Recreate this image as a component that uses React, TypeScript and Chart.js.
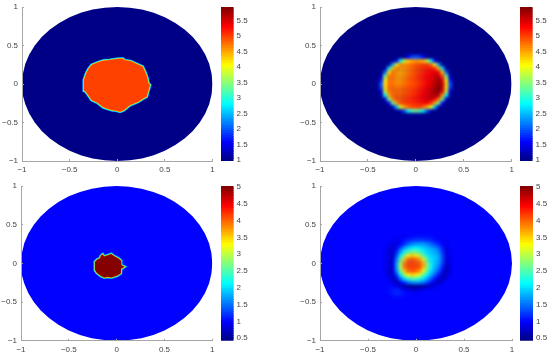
import React, { useEffect, useRef } from "react";
import { Chart, registerables } from "chart.js";

Chart.register(...registerables);

const FONT = "'Liberation Sans', Arial, sans-serif";
const TEXT = "#454545";
const AXIS = "#a6a6a6";

const axisTicks = [-1, -0.5, 0, 0.5, 1];
const barTicksTop = [1, 1.5, 2, 2.5, 3, 3.5, 4, 4.5, 5, 5.5];
const barTicksBottom = [0.5, 1, 1.5, 2, 2.5, 3, 3.5, 4, 4.5, 5];
const rangeTop = [0.97, 5.94];
const rangeBottom = [0.42, 5.03];

// unit disc outline of the solution domain
const diskX = [1, 0.991, 0.966, 0.924, 0.866, 0.793, 0.707, 0.609, 0.5, 0.383, 0.259, 0.131, 0, -0.131, -0.259, -0.383, -0.5, -0.609, -0.707, -0.793, -0.866, -0.924, -0.966, -0.991, -1, -0.991, -0.966, -0.924, -0.866, -0.793, -0.707, -0.609, -0.5, -0.383, -0.259, -0.131, 0, 0.131, 0.259, 0.383, 0.5, 0.609, 0.707, 0.793, 0.866, 0.924, 0.966, 0.991, 1];
const diskY = [0, 0.131, 0.259, 0.383, 0.5, 0.609, 0.707, 0.793, 0.866, 0.924, 0.966, 0.991, 1, 0.991, 0.966, 0.924, 0.866, 0.793, 0.707, 0.609, 0.5, 0.383, 0.259, 0.131, 0, -0.131, -0.259, -0.383, -0.5, -0.609, -0.707, -0.793, -0.866, -0.924, -0.966, -0.991, -1, -0.991, -0.966, -0.924, -0.866, -0.793, -0.707, -0.609, -0.5, -0.383, -0.259, -0.131, 0];

// inclusion outlines of the two true fields
const blobTopX = [-0.076, -0.006, 0.057, 0.081, 0.144, 0.204, 0.267, 0.291, 0.305, 0.319, 0.326, 0.344, 0.326, 0.309, 0.274, 0.221, 0.134, 0.071, 0.029, -0.006, -0.059, -0.146, -0.206, -0.269, -0.304, -0.339, -0.349, -0.328, -0.304, -0.269, -0.199, -0.146, -0.076];
const blobTopY = [0.312, 0.325, 0.329, 0.307, 0.294, 0.26, 0.225, 0.16, 0.117, 0.061, 0.009, -0.013, -0.087, -0.165, -0.186, -0.229, -0.273, -0.338, -0.359, -0.346, -0.338, -0.303, -0.243, -0.208, -0.143, -0.087, 0.052, 0.13, 0.19, 0.247, 0.281, 0.303, 0.312];
const blobBottomX = [-0.163, -0.146, -0.132, -0.104, -0.058, -0.017, 0.018, 0.046, 0.046, 0.081, 0.06, 0.046, 0.043, 0.001, -0.058, -0.093, -0.128, -0.163, -0.208, -0.226, -0.226, -0.201, -0.174, -0.163];
const blobBottomY = [0.103, 0.116, 0.09, 0.099, 0.12, 0.086, 0.064, 0.034, -0.022, -0.043, -0.06, -0.065, -0.129, -0.16, -0.181, -0.173, -0.181, -0.164, -0.121, -0.086, 0.021, 0.051, 0.064, 0.103];

// sampling positions of the two reconstructed fields
const gridX = [-0.44, -0.4, -0.36, -0.32, -0.28, -0.24, -0.2, -0.16, -0.12, -0.08, -0.04, 0, 0.04, 0.08, 0.12, 0.16, 0.2, 0.24, 0.28, 0.32, 0.36, 0.4, 0.44];
const gridY = [0.45, 0.4, 0.35, 0.3, 0.25, 0.2, 0.15, 0.1, 0.05, 0, -0.05, -0.1, -0.15, -0.2, -0.25, -0.3, -0.35, -0.4, -0.45];

const fieldTopRight = [
  [1, 1, 1, 1, 1, 1, 1, 1, 1, 1, 1, 1, 1, 1, 1, 1, 1, 1, 1, 1, 1, 1, 1],
  [1, 1, 1, 1, 1, 1, 1, 1, 1, 1, 1.03, 1.1, 1.03, 1, 1, 1, 1, 1, 1, 1, 1, 1, 1],
  [1, 1, 1, 1, 1, 1, 1, 1.05, 1.15, 1.55, 1.9, 2, 1.9, 1.55, 1.15, 1.05, 1, 1, 1, 1, 1, 1, 1],
  [1, 1, 1, 1, 1, 1.05, 1.55, 2.8, 3.8, 4.3, 4.5, 4.6, 4.5, 4.4, 3.8, 2.8, 1.55, 1.05, 1, 1, 1, 1, 1],
  [1, 1, 1, 1, 1.15, 2.4, 4, 4.6, 4.65, 4.7, 4.8, 4.9, 4.95, 5, 5.05, 4.8, 4, 2.4, 1.15, 1, 1, 1, 1],
  [1, 1, 1, 1.15, 2.7, 4.3, 4.65, 4.6, 4.6, 4.7, 4.85, 4.95, 5, 5.1, 5.15, 5.2, 5.1, 4.4, 2.7, 1.15, 1, 1, 1],
  [1, 1, 1.03, 2.1, 4.2, 4.75, 4.6, 4.5, 4.6, 4.75, 4.85, 4.95, 5.05, 5.15, 5.25, 5.35, 5.45, 5.3, 4.3, 2.1, 1.03, 1, 1],
  [1, 1, 1.25, 3.4, 4.7, 4.75, 4.6, 4.55, 4.65, 4.8, 4.9, 5, 5.1, 5.2, 5.3, 5.4, 5.55, 5.6, 5, 3.4, 1.25, 1, 1],
  [1, 1, 1.7, 4, 4.75, 4.75, 4.6, 4.6, 4.7, 4.85, 4.95, 5, 5.1, 5.2, 5.3, 5.45, 5.6, 5.75, 5.4, 4, 1.7, 1, 1],
  [1, 1.02, 2, 4.2, 4.8, 4.75, 4.65, 4.65, 4.75, 4.85, 4.95, 5, 5.1, 5.2, 5.35, 5.5, 5.7, 5.85, 5.6, 4.3, 2, 1.02, 1],
  [1, 1.02, 1.9, 4.2, 4.8, 4.8, 4.75, 4.75, 4.85, 4.95, 5, 5.05, 5.15, 5.25, 5.4, 5.55, 5.75, 5.9, 5.6, 4.2, 1.9, 1.02, 1],
  [1, 1, 1.45, 3.8, 4.7, 4.8, 4.8, 4.8, 4.9, 4.95, 5.05, 5.1, 5.2, 5.3, 5.45, 5.6, 5.8, 5.85, 5.3, 3.8, 1.45, 1, 1],
  [1, 1, 1.1, 2.8, 4.5, 4.8, 4.85, 4.85, 4.95, 5, 5.1, 5.15, 5.25, 5.35, 5.5, 5.6, 5.7, 5.6, 4.5, 2.8, 1.1, 1, 1],
  [1, 1, 1, 1.4, 3.4, 4.6, 4.9, 4.9, 5, 5.05, 5.15, 5.2, 5.25, 5.35, 5.45, 5.5, 5.3, 4.7, 3.4, 1.4, 1, 1, 1],
  [1, 1, 1, 1, 1.55, 3.3, 4.5, 4.9, 5, 5.05, 5.1, 5.15, 5.2, 5.25, 5.3, 5.1, 4.5, 3.3, 1.55, 1, 1, 1, 1],
  [1, 1, 1, 1, 1, 1.25, 2.5, 3.9, 4.5, 4.8, 5, 5, 5, 4.8, 4.5, 3.9, 2.5, 1.25, 1, 1, 1, 1, 1],
  [1, 1, 1, 1, 1, 1, 1.03, 1.25, 2, 2.8, 3.2, 3.3, 3.2, 2.8, 2, 1.25, 1.03, 1, 1, 1, 1, 1, 1],
  [1, 1, 1, 1, 1, 1, 1, 1, 1, 1.02, 1.05, 1.05, 1.05, 1.02, 1, 1, 1, 1, 1, 1, 1, 1, 1],
  [1, 1, 1, 1, 1, 1, 1, 1, 1, 1, 1, 1, 1, 1, 1, 1, 1, 1, 1, 1, 1, 1, 1],
];

const fieldBottomRight = [
  [1, 1, 1, 1, 1, 1, 1, 1, 1, 1, 1, 1, 1, 1, 1, 1, 1, 1, 1, 1, 1, 1, 1],
  [1, 1, 1, 1, 1, 1, 1, 1, 1, 1, 1, 1, 1, 1, 1, 1, 1, 1, 1, 1, 1, 1, 1],
  [1, 1, 1, 1, 1, 1, 1, 0.95, 0.95, 1, 1.02, 1.05, 1.05, 1.05, 1.05, 1.05, 1, 1, 1, 1, 1, 1, 1],
  [1, 1, 1, 1, 1, 0.95, 0.9, 0.95, 1.05, 1.15, 1.2, 1.25, 1.25, 1.25, 1.2, 1.15, 1.05, 1, 0.95, 1, 1, 1, 1],
  [1, 1, 1, 1, 0.95, 0.85, 0.85, 1, 1.2, 1.45, 1.6, 1.65, 1.7, 1.7, 1.6, 1.45, 1.3, 1.15, 1, 0.92, 1, 1, 1],
  [1, 1, 1, 0.95, 0.85, 0.8, 0.95, 1.3, 1.7, 1.95, 2.05, 2.1, 2.05, 1.95, 1.85, 1.75, 1.6, 1.4, 1.1, 0.85, 1, 1, 1],
  [1, 1, 1, 0.95, 0.82, 0.75, 1.15, 1.75, 2.2, 2.5, 2.65, 2.6, 2.45, 2.25, 2, 1.9, 1.8, 1.6, 1.2, 0.82, 0.97, 1, 1],
  [1, 1, 1, 0.95, 0.78, 0.75, 1.35, 2.1, 2.8, 3.3, 3.5, 3.4, 3, 2.6, 2.2, 2, 1.9, 1.7, 1.3, 0.82, 0.95, 1, 1],
  [1, 1, 1, 0.95, 0.75, 0.8, 1.6, 2.6, 3.5, 3.95, 4.05, 3.95, 3.75, 3.2, 2.5, 2.1, 1.95, 1.75, 1.3, 0.8, 0.95, 1, 1],
  [1, 1, 1, 0.95, 0.75, 0.85, 1.75, 2.95, 3.85, 4.1, 4.15, 4.1, 4, 3.6, 2.75, 2.2, 1.9, 1.7, 1.25, 0.75, 0.92, 1, 1],
  [1, 1, 1, 0.95, 0.75, 0.85, 1.75, 3, 3.9, 4.1, 4.15, 4.15, 4.05, 3.6, 2.75, 2.15, 1.8, 1.55, 1.1, 0.7, 0.88, 1, 1],
  [1, 1, 1, 0.95, 0.75, 0.8, 1.6, 2.65, 3.55, 3.95, 4.05, 4, 3.75, 3.2, 2.5, 2, 1.65, 1.35, 0.9, 0.65, 0.88, 1, 1],
  [1, 1, 1, 0.97, 0.82, 0.72, 1.25, 2.1, 2.85, 3.3, 3.5, 3.4, 3.1, 2.6, 2.15, 1.75, 1.4, 1.05, 0.7, 0.75, 0.97, 1, 1],
  [1, 1, 1, 1, 0.9, 0.72, 0.9, 1.5, 2, 2.35, 2.5, 2.45, 2.3, 2.05, 1.75, 1.4, 1.05, 0.8, 0.7, 0.88, 1, 1, 1],
  [1, 1, 1, 1, 1, 0.88, 0.65, 0.85, 1.15, 1.45, 1.6, 1.65, 1.6, 1.5, 1.25, 1, 0.8, 0.7, 0.9, 1, 1, 1, 1],
  [1, 1, 1, 1, 1.02, 1.02, 0.95, 0.72, 0.6, 0.55, 0.5, 0.5, 0.55, 0.6, 0.65, 0.75, 0.88, 1, 1, 1, 1, 1, 1],
  [1, 1, 1, 1, 1.05, 1.12, 1.15, 1.12, 1, 0.88, 0.82, 0.82, 0.88, 0.95, 1, 1, 1, 1, 1, 1, 1, 1, 1],
  [1, 1, 1, 1, 1.02, 1.1, 1.15, 1.12, 1.05, 1.02, 1, 1, 1, 1, 1, 1, 1, 1, 1, 1, 1, 1, 1],
  [1, 1, 1, 1, 1, 1.02, 1.02, 1.02, 1, 1, 1, 1, 1, 1, 1, 1, 1, 1, 1, 1, 1, 1, 1],
];

const clamp01 = (v: number) => Math.max(0, Math.min(1, v));
function jet(t: number) {
  const r = clamp01(Math.min(4 * t - 1.5, -4 * t + 4.5));
  const g = clamp01(Math.min(4 * t - 0.5, -4 * t + 3.5));
  const b = clamp01(Math.min(4 * t + 0.5, -4 * t + 2.5));
  return `rgb(${Math.round(r * 255)},${Math.round(g * 255)},${Math.round(b * 255)})`;
}
const colorOf = (v: number, range: number[]) => jet((v - range[0]) / (range[1] - range[0]));

const minusFix = (v: number | string) => String(v).replace("-", "\u2212");
const zip = (xs: number[], ys: number[]) => xs.map((x, i) => ({ x, y: ys[i] }));

function polygon(xs: number[], ys: number[], fillColor: string, line: string, width: number, order: number) {
  return {
    type: "scatter",
    data: zip(xs, ys),
    showLine: true,
    tension: 0,
    pointRadius: 0,
    fill: "shape",
    backgroundColor: fillColor,
    borderColor: line,
    borderWidth: width,
    order,
  };
}

function cells(field: number[][], range: number[], order: number) {
  const data: { x: number; y: number }[] = [];
  const colors: string[] = [];
  field.forEach((row, r) =>
    row.forEach((v, c) => {
      data.push({ x: gridX[c], y: gridY[r] });
      colors.push(colorOf(v, range));
    })
  );
  return {
    type: "scatter",
    data,
    pointStyle: "rect",
    pointRadius: 2.85,
    pointBorderWidth: 0,
    pointBackgroundColor: colors,
    order,
  };
}

function blurPlugin(radius: number) {
  return {
    id: "smoothField",
    afterDatasetsDraw(chart: any) {
      const { ctx, scales } = chart;
      const x0 = scales.x.getPixelForValue(gridX[0]);
      const x1 = scales.x.getPixelForValue(gridX[gridX.length - 1]);
      const y0 = scales.y.getPixelForValue(gridY[0]);
      const y1 = scales.y.getPixelForValue(gridY[gridY.length - 1]);
      ctx.save();
      ctx.beginPath();
      ctx.rect(x0, y0, x1 - x0, y1 - y0);
      ctx.clip();
      ctx.filter = `blur(${radius}px)`;
      ctx.setTransform(1, 0, 0, 1, 0, 0);
      ctx.drawImage(ctx.canvas, 0, 0);
      ctx.restore();
    },
  };
}

type Box = { left: number; top: number; width: number; height: number; l: number; r: number; t: number; b: number };

function useChart(make: (c: HTMLCanvasElement) => Chart) {
  const ref = useRef<HTMLCanvasElement>(null);
  useEffect(() => {
    const chart = make(ref.current!);
    return () => chart.destroy();
  }, []);
  return ref;
}

function Canvas({ box, make }: { box: Box; make: (c: HTMLCanvasElement) => Chart }) {
  const ref = useChart(make);
  return (
    <canvas
      ref={ref}
      width={box.width}
      height={box.height}
      style={{ position: "absolute", left: box.left, top: box.top, width: box.width, height: box.height }}
    />
  );
}

function heatChart(c: HTMLCanvasElement, box: Box, datasets: any[], plugins: any[]) {
  const tickFont = { family: FONT, size: 8 };
  return new Chart(c, {
    type: "scatter",
    data: { datasets },
    plugins,
    options: {
      responsive: false,
      animation: false,
      events: [],
      layout: { padding: { left: 0, top: box.t, right: box.width - box.r, bottom: 0 } },
      plugins: { legend: { display: false }, tooltip: { enabled: false } },
      scales: {
        x: {
          type: "linear",
          min: -1,
          max: 1,
          afterFit: (s: any) => {
            s.height = box.height - box.b;
            s.paddingLeft = 0;
            s.paddingRight = 0;
          },
          afterBuildTicks: (s: any) => { s.ticks = axisTicks.map((value) => ({ value })); },
          grid: { drawOnChartArea: false, drawTicks: true, tickLength: -2, tickColor: AXIS, z: 1 },
          border: { color: AXIS, width: 1, z: 1 },
          ticks: { font: tickFont, color: TEXT, padding: 6, maxRotation: 0, autoSkip: false, callback: minusFix },
        },
        y: {
          type: "linear",
          min: -1,
          max: 1,
          afterFit: (s: any) => {
            s.width = box.l;
            s.paddingTop = 0;
            s.paddingBottom = 0;
          },
          afterBuildTicks: (s: any) => { s.ticks = axisTicks.map((value) => ({ value })); },
          grid: { drawOnChartArea: false, drawTicks: true, tickLength: -2, tickColor: AXIS, z: 1 },
          border: { color: AXIS, width: 1, z: 1 },
          ticks: { font: tickFont, color: TEXT, padding: 6, autoSkip: false, callback: minusFix },
        },
      },
    } as any,
  });
}

function colorbar(c: HTMLCanvasElement, box: Box, range: number[], ticks: number[]) {
  const levels = 64;
  const step = (range[1] - range[0]) / levels;
  const datasets = [];
  for (let i = 0; i < levels; i++) {
    const lo = range[0] + i * step;
    datasets.push({
      data: [[lo, i === levels - 1 ? lo + step : lo + step * 1.3]],
      backgroundColor: jet((i + 0.5) / levels),
      borderWidth: 0,
      barPercentage: 1,
      categoryPercentage: 1,
      grouped: false,
      order: levels - i,
    });
  }
  return new Chart(c, {
    type: "bar",
    data: { labels: ["scale"], datasets },
    options: {
      responsive: false,
      animation: false,
      events: [],
      layout: { padding: { left: box.l, top: box.t, right: 0, bottom: box.height - box.b } },
      plugins: { legend: { display: false }, tooltip: { enabled: false } },
      scales: {
        x: { display: false },
        y: {
          position: "right",
          min: range[0],
          max: range[1],
          afterFit: (s: any) => {
            s.width = box.width - box.r;
            s.paddingTop = 0;
            s.paddingBottom = 0;
          },
          afterBuildTicks: (s: any) => { s.ticks = ticks.map((value) => ({ value })); },
          grid: { display: false, drawTicks: false },
          border: { display: false },
          ticks: { font: { family: FONT, size: 8 }, color: TEXT, padding: 3, autoSkip: false, callback: (v: number) => String(v) },
        },
      },
    } as any,
  });
}

const plotBoxTL: Box = { left: 0, top: 0, width: 218, height: 178, l: 22, r: 212.5, t: 7, b: 161 };
const plotBoxTR: Box = { left: 298, top: 0, width: 218, height: 178, l: 22, r: 213.6, t: 7, b: 161 };
const plotBoxBL: Box = { left: 0, top: 178, width: 218, height: 178, l: 21, r: 212.3, t: 8, b: 162.8 };
const plotBoxBR: Box = { left: 298, top: 178, width: 218, height: 178, l: 22, r: 214, t: 8, b: 162.8 };
const barBoxTL: Box = { left: 218, top: 0, width: 40, height: 178, l: 3, r: 15.6, t: 7, b: 161 };
const barBoxTR: Box = { left: 517, top: 0, width: 33, height: 178, l: 3, r: 15.6, t: 7, b: 161 };
const barBoxBL: Box = { left: 218, top: 178, width: 40, height: 178, l: 3, r: 15.6, t: 8, b: 162.8 };
const barBoxBR: Box = { left: 517, top: 178, width: 33, height: 178, l: 3, r: 16, t: 8, b: 162.8 };

function rimmed(xs: number[], ys: number[], value: number, range: number[]) {
  return [
    polygon(xs, ys, colorOf(value, range), colorOf(value, range), 0.3, 1),
    polygon(xs, ys, "rgba(0,0,0,0)", "rgb(255,240,0)", 1.2, 2),
    polygon(xs, ys, "rgba(0,0,0,0)", "rgb(0,240,240)", 2.4, 3),
    polygon(xs, ys, "rgba(0,0,0,0)", "rgb(0,130,255)", 3.2, 4),
  ];
}

export default function App() {
  const disk = (range: number[]) => polygon(diskX, diskY, colorOf(1, range), colorOf(1, range), 0, 10);
  return (
    <div style={{ position: "absolute", left: 0, top: 0, width: 550, height: 356, background: "#fff", filter: "blur(0.3px)" }}>
      <Canvas box={plotBoxTL} make={(c) => heatChart(c, plotBoxTL, [disk(rangeTop), ...rimmed(blobTopX, blobTopY, 5, rangeTop)], [])} />
      <Canvas box={barBoxTL} make={(c) => colorbar(c, barBoxTL, rangeTop, barTicksTop)} />
      <Canvas box={plotBoxTR} make={(c) => heatChart(c, plotBoxTR, [disk(rangeTop), cells(fieldTopRight, rangeTop, 1)], [blurPlugin(1.4)])} />
      <Canvas box={barBoxTR} make={(c) => colorbar(c, barBoxTR, rangeTop, barTicksTop)} />
      <Canvas box={plotBoxBL} make={(c) => heatChart(c, plotBoxBL, [disk(rangeBottom), ...rimmed(blobBottomX, blobBottomY, 5, rangeBottom)], [])} />
      <Canvas box={barBoxBL} make={(c) => colorbar(c, barBoxBL, rangeBottom, barTicksBottom)} />
      <Canvas box={plotBoxBR} make={(c) => heatChart(c, plotBoxBR, [disk(rangeBottom), cells(fieldBottomRight, rangeBottom, 1)], [blurPlugin(1.4)])} />
      <Canvas box={barBoxBR} make={(c) => colorbar(c, barBoxBR, rangeBottom, barTicksBottom)} />
    </div>
  );
}
